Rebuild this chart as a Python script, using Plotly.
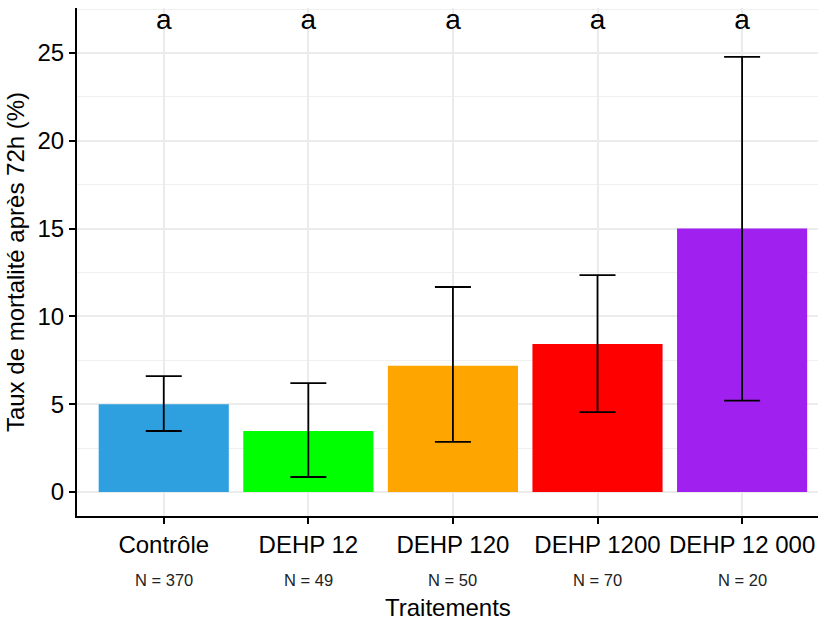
import plotly.graph_objects as go

categories = ["Contrôle", "DEHP 12", "DEHP 120", "DEHP 1200", "DEHP 12 000"]
mortality = [5.0, 3.47, 7.18, 8.43, 15.0]
ci_low = [3.47, 0.85, 2.85, 4.55, 5.2]
ci_high = [6.6, 6.2, 11.67, 12.35, 24.78]
sample_sizes = ["N = 370", "N = 49", "N = 50", "N = 70", "N = 20"]
letters = ["a", "a", "a", "a", "a"]
letter_y = 26.77
colors = ["#2E9FDF", "#00FF00", "#FFA500", "#FF0000", "#A020F0"]

FONT = "Liberation Sans, Arial, sans-serif"
x = list(range(len(categories)))

fig = go.Figure()
fig.add_trace(go.Bar(
    x=x, y=mortality, width=0.9,
    marker=dict(color=colors, line=dict(width=0)),
    error_y=dict(
        type="data", symmetric=False,
        array=[h - m for h, m in zip(ci_high, mortality)],
        arrayminus=[m - l for m, l in zip(mortality, ci_low)],
        color="black", thickness=1.8, width=18,
    ),
    showlegend=False, hoverinfo="skip",
))
fig.add_trace(go.Scatter(
    x=x, y=[letter_y] * len(x), mode="text", text=letters,
    textfont=dict(family=FONT, size=28, color="black"),
    showlegend=False, hoverinfo="skip",
))

for i, n in enumerate(sample_sizes):
    fig.add_annotation(x=i, xref="x", y=0, yref="paper", yanchor="middle",
                       yshift=-64, text=n, showarrow=False,
                       font=dict(family=FONT, size=16.5, color="#222222"))
fig.add_annotation(x=0.5, xref="paper", y=0, yref="paper", yanchor="middle",
                   yshift=-91, text="Traitements", showarrow=False,
                   font=dict(family=FONT, size=24, color="black"))

fig.update_layout(
    width=818, height=621,
    margin=dict(l=77, r=0, t=8, b=105),
    plot_bgcolor="white", paper_bgcolor="white",
    font=dict(family=FONT, color="black"),
    bargap=0.1,
)
fig.update_xaxes(
    range=[-0.6, 4.525],
    tickmode="array", tickvals=x, ticktext=categories,
    tickfont=dict(family=FONT, size=24, color="black"),
    showline=True, linecolor="black", linewidth=2,
    ticks="outside", ticklen=6, tickwidth=2, tickcolor="black",
    showgrid=True, gridcolor="#EBEBEB", gridwidth=1.5,
    zeroline=False,
)
fig.update_yaxes(
    range=[-1.37, 27.56],
    tickmode="array", tickvals=[0, 5, 10, 15, 20, 25],
    tickfont=dict(family=FONT, size=24, color="black"),
    showline=True, linecolor="black", linewidth=2,
    ticks="outside", ticklen=6, tickwidth=2, tickcolor="black",
    showgrid=True, gridcolor="#EBEBEB", gridwidth=1.5,
    minor=dict(tickmode="linear", tick0=0, dtick=2.5, showgrid=True,
               gridcolor="#F0F0F0", gridwidth=1.2, ticks=""),
    zeroline=False,
    title=dict(text="Taux de mortalité après 72h (%)",
               font=dict(family=FONT, size=24, color="black"), standoff=6),
)

fig.write_html("out.html")
